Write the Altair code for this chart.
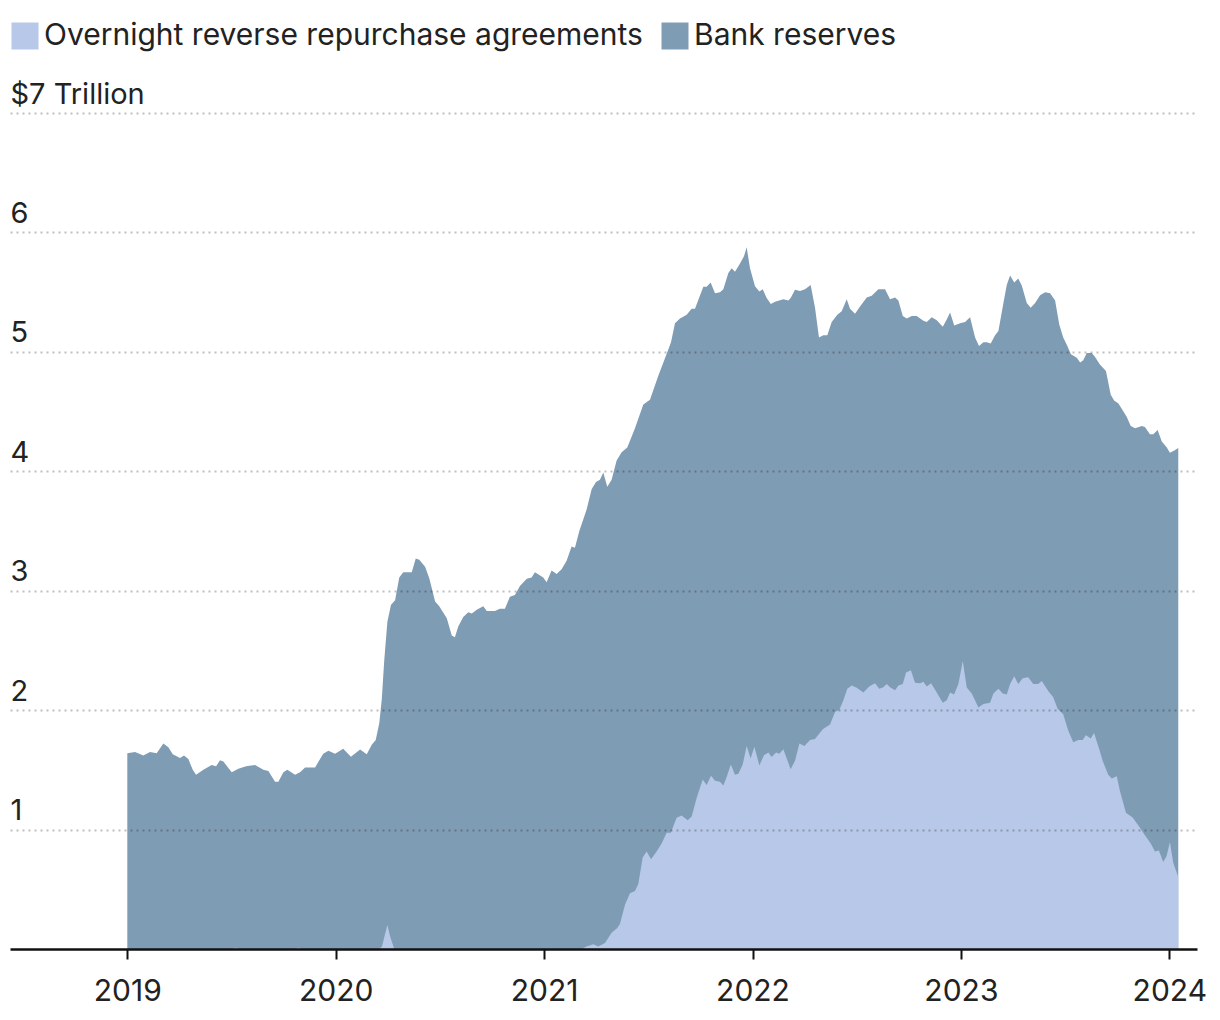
import altair as alt
import pandas as pd

# Top edge of the stacked area (bank reserves + overnight reverse repos), $ trillions
total_years = [2019.000, 2019.037, 2019.077, 2019.109, 2019.141, 2019.173, 2019.197, 2019.218, 2019.253, 2019.272,
               2019.293, 2019.314, 2019.330, 2019.365, 2019.405, 2019.426, 2019.445, 2019.461, 2019.501, 2019.533,
               2019.570, 2019.613, 2019.653, 2019.677, 2019.709, 2019.725, 2019.749, 2019.768, 2019.805, 2019.829,
               2019.853, 2019.901, 2019.940, 2019.965, 2019.997, 2020.036, 2020.073, 2020.117, 2020.149, 2020.173,
               2020.192, 2020.209, 2020.221, 2020.233, 2020.248, 2020.265, 2020.285, 2020.305, 2020.324, 2020.365,
               2020.384, 2020.401, 2020.429, 2020.449, 2020.477, 2020.497, 2020.533, 2020.557, 2020.572, 2020.588,
               2020.612, 2020.636, 2020.653, 2020.677, 2020.708, 2020.725, 2020.764, 2020.788, 2020.812, 2020.836,
               2020.860, 2020.884, 2020.917, 2020.940, 2020.956, 2020.996, 2021.012, 2021.036, 2021.060, 2021.084,
               2021.108, 2021.132, 2021.148, 2021.169, 2021.204, 2021.228, 2021.249, 2021.268, 2021.284, 2021.303,
               2021.324, 2021.348, 2021.372, 2021.399, 2021.436, 2021.476, 2021.508, 2021.548, 2021.596, 2021.609,
               2021.628, 2021.652, 2021.684, 2021.708, 2021.724, 2021.764, 2021.780, 2021.799, 2021.820, 2021.844,
               2021.860, 2021.884, 2021.900, 2021.916, 2021.940, 2021.959, 2021.972, 2021.988, 2022.012, 2022.033,
               2022.049, 2022.068, 2022.088, 2022.108, 2022.148, 2022.172, 2022.183, 2022.204, 2022.228, 2022.252,
               2022.279, 2022.300, 2022.319, 2022.340, 2022.359, 2022.380, 2022.407, 2022.428, 2022.452, 2022.468,
               2022.492, 2022.516, 2022.548, 2022.572, 2022.604, 2022.636, 2022.660, 2022.684, 2022.700, 2022.721,
               2022.740, 2022.764, 2022.788, 2022.820, 2022.836, 2022.860, 2022.884, 2022.913, 2022.932, 2022.948,
               2022.968, 2022.996, 2023.020, 2023.044, 2023.068, 2023.087, 2023.108, 2023.124, 2023.143, 2023.164,
               2023.180, 2023.204, 2023.220, 2023.236, 2023.256, 2023.275, 2023.292, 2023.316, 2023.335, 2023.356,
               2023.380, 2023.404, 2023.428, 2023.452, 2023.472, 2023.491, 2023.508, 2023.528, 2023.556, 2023.572,
               2023.587, 2023.604, 2023.628, 2023.643, 2023.667, 2023.696, 2023.719, 2023.736, 2023.755, 2023.777,
               2023.796, 2023.815, 2023.836, 2023.868, 2023.883, 2023.907, 2023.923, 2023.944, 2023.964, 2023.988,
               2024.003, 2024.024, 2024.043]
total_values = [1.64, 1.65, 1.62, 1.65, 1.64, 1.72, 1.69, 1.63, 1.60, 1.62,
                1.59, 1.50, 1.46, 1.50, 1.54, 1.53, 1.58, 1.57, 1.48, 1.51,
                1.53, 1.54, 1.50, 1.49, 1.40, 1.40, 1.48, 1.50, 1.46, 1.48,
                1.52, 1.52, 1.635, 1.66, 1.635, 1.676, 1.61, 1.67, 1.63, 1.71,
                1.75, 1.89, 2.09, 2.42, 2.74, 2.88, 2.92, 3.11, 3.155, 3.155,
                3.27, 3.26, 3.20, 3.105, 2.91, 2.87, 2.77, 2.625, 2.61, 2.70,
                2.78, 2.82, 2.81, 2.84, 2.87, 2.83, 2.83, 2.85, 2.85, 2.95,
                2.965, 3.04, 3.10, 3.11, 3.155, 3.11, 3.07, 3.17, 3.14, 3.18,
                3.25, 3.37, 3.36, 3.50, 3.68, 3.85, 3.91, 3.93, 3.99, 3.87,
                3.93, 4.09, 4.16, 4.20, 4.36, 4.56, 4.60, 4.80, 5.02, 5.08,
                5.24, 5.28, 5.31, 5.36, 5.36, 5.545, 5.545, 5.58, 5.49, 5.50,
                5.525, 5.66, 5.70, 5.67, 5.74, 5.80, 5.875, 5.70, 5.55, 5.505,
                5.525, 5.45, 5.40, 5.42, 5.44, 5.43, 5.45, 5.52, 5.51, 5.525,
                5.56, 5.37, 5.12, 5.14, 5.14, 5.25, 5.31, 5.34, 5.44, 5.36,
                5.32, 5.38, 5.455, 5.47, 5.525, 5.525, 5.44, 5.455, 5.43, 5.30,
                5.28, 5.30, 5.30, 5.26, 5.25, 5.29, 5.265, 5.21, 5.27, 5.33,
                5.22, 5.24, 5.25, 5.29, 5.12, 5.05, 5.08, 5.08, 5.07, 5.14,
                5.175, 5.41, 5.56, 5.64, 5.58, 5.615, 5.555, 5.41, 5.37, 5.41,
                5.475, 5.50, 5.49, 5.43, 5.23, 5.12, 5.06, 4.98, 4.95, 4.91,
                4.93, 4.99, 4.99, 4.96, 4.895, 4.84, 4.64, 4.59, 4.57, 4.51,
                4.455, 4.38, 4.36, 4.38, 4.37, 4.31, 4.31, 4.345, 4.25, 4.20,
                4.155, 4.175, 4.195]

# Overnight reverse repurchase agreements, $ trillions
rrp_years = [2019.000, 2019.500, 2019.520, 2019.540, 2019.800, 2019.820, 2019.840, 2020.210, 2020.222, 2020.236,
             2020.248, 2020.262, 2020.281, 2021.180, 2021.204, 2021.236, 2021.260, 2021.292, 2021.324, 2021.351,
             2021.364, 2021.388, 2021.412, 2021.436, 2021.452, 2021.473, 2021.492, 2021.513, 2021.540, 2021.564,
             2021.588, 2021.608, 2021.636, 2021.660, 2021.689, 2021.708, 2021.732, 2021.761, 2021.780, 2021.801,
             2021.820, 2021.844, 2021.860, 2021.876, 2021.896, 2021.916, 2021.932, 2021.953, 2021.972, 2021.991,
             2022.009, 2022.033, 2022.055, 2022.076, 2022.092, 2022.113, 2022.129, 2022.148, 2022.183, 2022.204,
             2022.225, 2022.249, 2022.276, 2022.300, 2022.337, 2022.372, 2022.396, 2022.417, 2022.436, 2022.455,
             2022.476, 2022.500, 2022.532, 2022.560, 2022.588, 2022.608, 2022.628, 2022.644, 2022.660, 2022.684,
             2022.700, 2022.721, 2022.737, 2022.760, 2022.780, 2022.804, 2022.820, 2022.836, 2022.857, 2022.884,
             2022.913, 2022.932, 2022.948, 2022.967, 2022.988, 2023.009, 2023.028, 2023.052, 2023.084, 2023.108,
             2023.140, 2023.156, 2023.180, 2023.201, 2023.220, 2023.236, 2023.256, 2023.275, 2023.297, 2023.323,
             2023.347, 2023.371, 2023.388, 2023.419, 2023.443, 2023.464, 2023.491, 2023.515, 2023.539, 2023.563,
             2023.584, 2023.600, 2023.623, 2023.639, 2023.664, 2023.680, 2023.707, 2023.724, 2023.748, 2023.763,
             2023.792, 2023.824, 2023.856, 2023.883, 2023.911, 2023.931, 2023.950, 2023.971, 2023.987, 2024.003,
             2024.019, 2024.043]
rrp_values = [0.0, 0.0, 0.01, 0.0, 0.0, 0.01, 0.0, 0.0, 0.02, 0.12,
              0.20, 0.10, 0.0, 0.0, 0.02, 0.04, 0.02, 0.05, 0.136, 0.175,
              0.21, 0.37, 0.467, 0.486, 0.545, 0.767, 0.817, 0.751, 0.817, 0.883,
              0.973, 0.973, 1.10, 1.117, 1.078, 1.109, 1.265, 1.42, 1.374, 1.451,
              1.409, 1.401, 1.37, 1.44, 1.545, 1.459, 1.467, 1.545, 1.70, 1.595,
              1.693, 1.537, 1.623, 1.646, 1.607, 1.646, 1.634, 1.673, 1.506, 1.576,
              1.72, 1.70, 1.751, 1.759, 1.84, 1.879, 1.984, 2.004, 2.082, 2.179,
              2.206, 2.187, 2.148, 2.198, 2.226, 2.179, 2.191, 2.218, 2.191, 2.167,
              2.206, 2.218, 2.315, 2.335, 2.23, 2.226, 2.237, 2.198, 2.226, 2.148,
              2.062, 2.082, 2.148, 2.132, 2.218, 2.412, 2.19, 2.14, 2.023, 2.051,
              2.062, 2.14, 2.179, 2.14, 2.132, 2.218, 2.284, 2.218, 2.268, 2.276,
              2.218, 2.218, 2.245, 2.16, 2.109, 2.012, 1.965, 1.829, 1.732, 1.751,
              1.751, 1.79, 1.763, 1.809, 1.673, 1.576, 1.459, 1.428, 1.447, 1.323,
              1.14, 1.101, 1.023, 0.953, 0.883, 0.817, 0.825, 0.728, 0.778, 0.895,
              0.72, 0.603]

series_names = ["Overnight reverse repurchase agreements", "Bank reserves"]
series_colors = ["#b8c8e8", "#7f9cb5"]
year_ticks = [2019, 2020, 2021, 2022, 2023, 2024]
value_ticks = [1, 2, 3, 4, 5, 6, 7]

df_total = pd.DataFrame({"year": total_years, "value": total_values, "series": series_names[1]})
df_rrp = pd.DataFrame({"year": rrp_years, "value": rrp_values, "series": series_names[0]})

FONT = "Inter"
x_enc = alt.X(
    "year:Q",
    scale=alt.Scale(domain=[2018.4371, 2024.1329], nice=False, zero=False),
    axis=alt.Axis(
        values=year_ticks, format="d", title=None, grid=False,
        domainColor="#111111", domainWidth=2.5, tickColor="#111111", tickWidth=2,
        tickSize=10, labelFontSize=30, labelFont=FONT, labelColor="#222222",
        labelPadding=17, zindex=1,
    ),
)
y_enc = alt.Y(
    "value:Q",
    stack=None,
    scale=alt.Scale(domain=[0, 7], nice=False),
    axis=alt.Axis(
        values=value_ticks, title=None, domain=False, ticks=False, tickSize=0,
        grid=True, gridColor="#000000", gridOpacity=0.25, gridDash=[2, 4], gridWidth=2,
        labelAlign="left", labelBaseline="alphabetic", labelPadding=0, labelOffset=-10,
        labelFontSize=29, labelFont=FONT, labelColor="#222222",
        labelExpr="datum.value == 7 ? '$7 Trillion' : datum.label", zindex=1,
    ),
)
color_enc = alt.Color(
    "series:N",
    scale=alt.Scale(domain=series_names, range=series_colors),
    legend=alt.Legend(
        title=None, orient="none", legendX=0, legendY=-92, direction="horizontal",
        symbolType="square", symbolSize=729, symbolStrokeWidth=0, symbolOpacity=1,
        labelFontSize=30, labelFont=FONT, labelColor="#222222", labelOffset=4,
        columnPadding=17, padding=0, labelLimit=800,
    ),
)

total_area = alt.Chart(df_total).mark_area(interpolate="linear", opacity=1).encode(
    x=x_enc, y=y_enc, color=color_enc
)
rrp_area = alt.Chart(df_rrp).mark_area(interpolate="linear", opacity=1).encode(
    x=x_enc, y=y_enc, color=color_enc
)

chart = alt.layer(total_area, rrp_area).properties(
    width=1187, height=836,
    autosize=alt.AutoSizeParams(type="none"),
    padding={"left": 2, "top": 105, "right": 15, "bottom": 63},
).configure(font=FONT).configure_view(strokeWidth=0, strokeOpacity=0)

chart.save("out.html", embed_options={"renderer": "svg", "actions": False})
